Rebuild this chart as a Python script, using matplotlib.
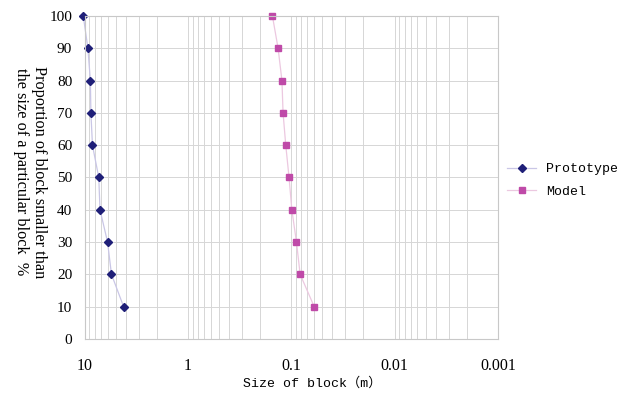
import numpy as np
import matplotlib.pyplot as plt
from matplotlib.ticker import FixedLocator, LogLocator, NullFormatter

# cumulative proportion (%) and block sizes (m)
proportion = [100, 90, 80, 70, 60, 50, 40, 30, 20, 10]
prototype_size = [10.3, 9.3, 8.8, 8.7, 8.4, 7.3, 7.1, 6.0, 5.5, 4.2]
model_size = [0.152, 0.134, 0.123, 0.120, 0.113, 0.105, 0.0987, 0.089, 0.082, 0.060]

xticks = [10, 1, 0.1, 0.01, 0.001]
xtick_labels = ['10', '1', '0.1', '0.01', '0.001']
yticks = list(range(0, 101, 10))

fig = plt.figure(figsize=(6.27, 3.94), dpi=100)
ax = fig.add_axes([0.135, 0.14, 0.659, 0.819])

ax.plot(prototype_size, proportion, color='#c9c6e6', lw=0.9, clip_on=False,
        marker='D', ms=4.5, mfc='#1f1f78', mec='#1f1f78', label='Prototype')
ax.plot(model_size, proportion, color='#ecc8e0', lw=0.9, clip_on=False,
        marker='s', ms=5, mfc='#bf4aa8', mec='#bf4aa8', label='Model')

ax.set_xscale('log')
ax.set_xlim(10, 0.001)
ax.set_ylim(0, 100)
ax.xaxis.set_major_locator(FixedLocator(xticks))
ax.xaxis.set_minor_locator(LogLocator(base=10, subs=np.arange(2, 10)))
ax.xaxis.set_minor_formatter(NullFormatter())
ax.set_xticklabels(xtick_labels, family='Liberation Serif', fontsize=11.5)
ax.set_yticks(yticks)
ax.set_yticklabels([str(v) for v in yticks], family='Liberation Serif', fontsize=11)

ax.grid(True, which='both', color='#d6d6d6', lw=0.7)
ax.set_axisbelow(True)
ax.tick_params(which='both', length=0)
ax.tick_params(axis='x', pad=14)
ax.tick_params(axis='y', pad=9)
for s in ax.spines.values():
    s.set_color('#c8c8c8')
    s.set_linewidth(0.8)

# axis titles placed by hand
fig.text(312 / 627, 1 - 383 / 394, 'Size of block（m）',
         family=['Liberation Mono', 'Noto Sans CJK SC'], fontsize=9.5,
         ha='center', va='center')
fig.text(30 / 627, 1 - 172 / 394,
         'Proportion of block smaller than\nthe size of a particular block  %',
         family='Liberation Serif', fontsize=11.7, rotation=-90,
         ha='center', va='center', linespacing=1.1)

fig.legend(loc='center left', bbox_to_anchor=(507 / 627, 1 - 180.5 / 394),
           frameon=False, prop={'family': 'Liberation Mono', 'size': 9.5},
           handlelength=2.2, handletextpad=0.76, labelspacing=0.76,
           borderpad=0, borderaxespad=0)

fig.savefig('out.png', dpi=100)
